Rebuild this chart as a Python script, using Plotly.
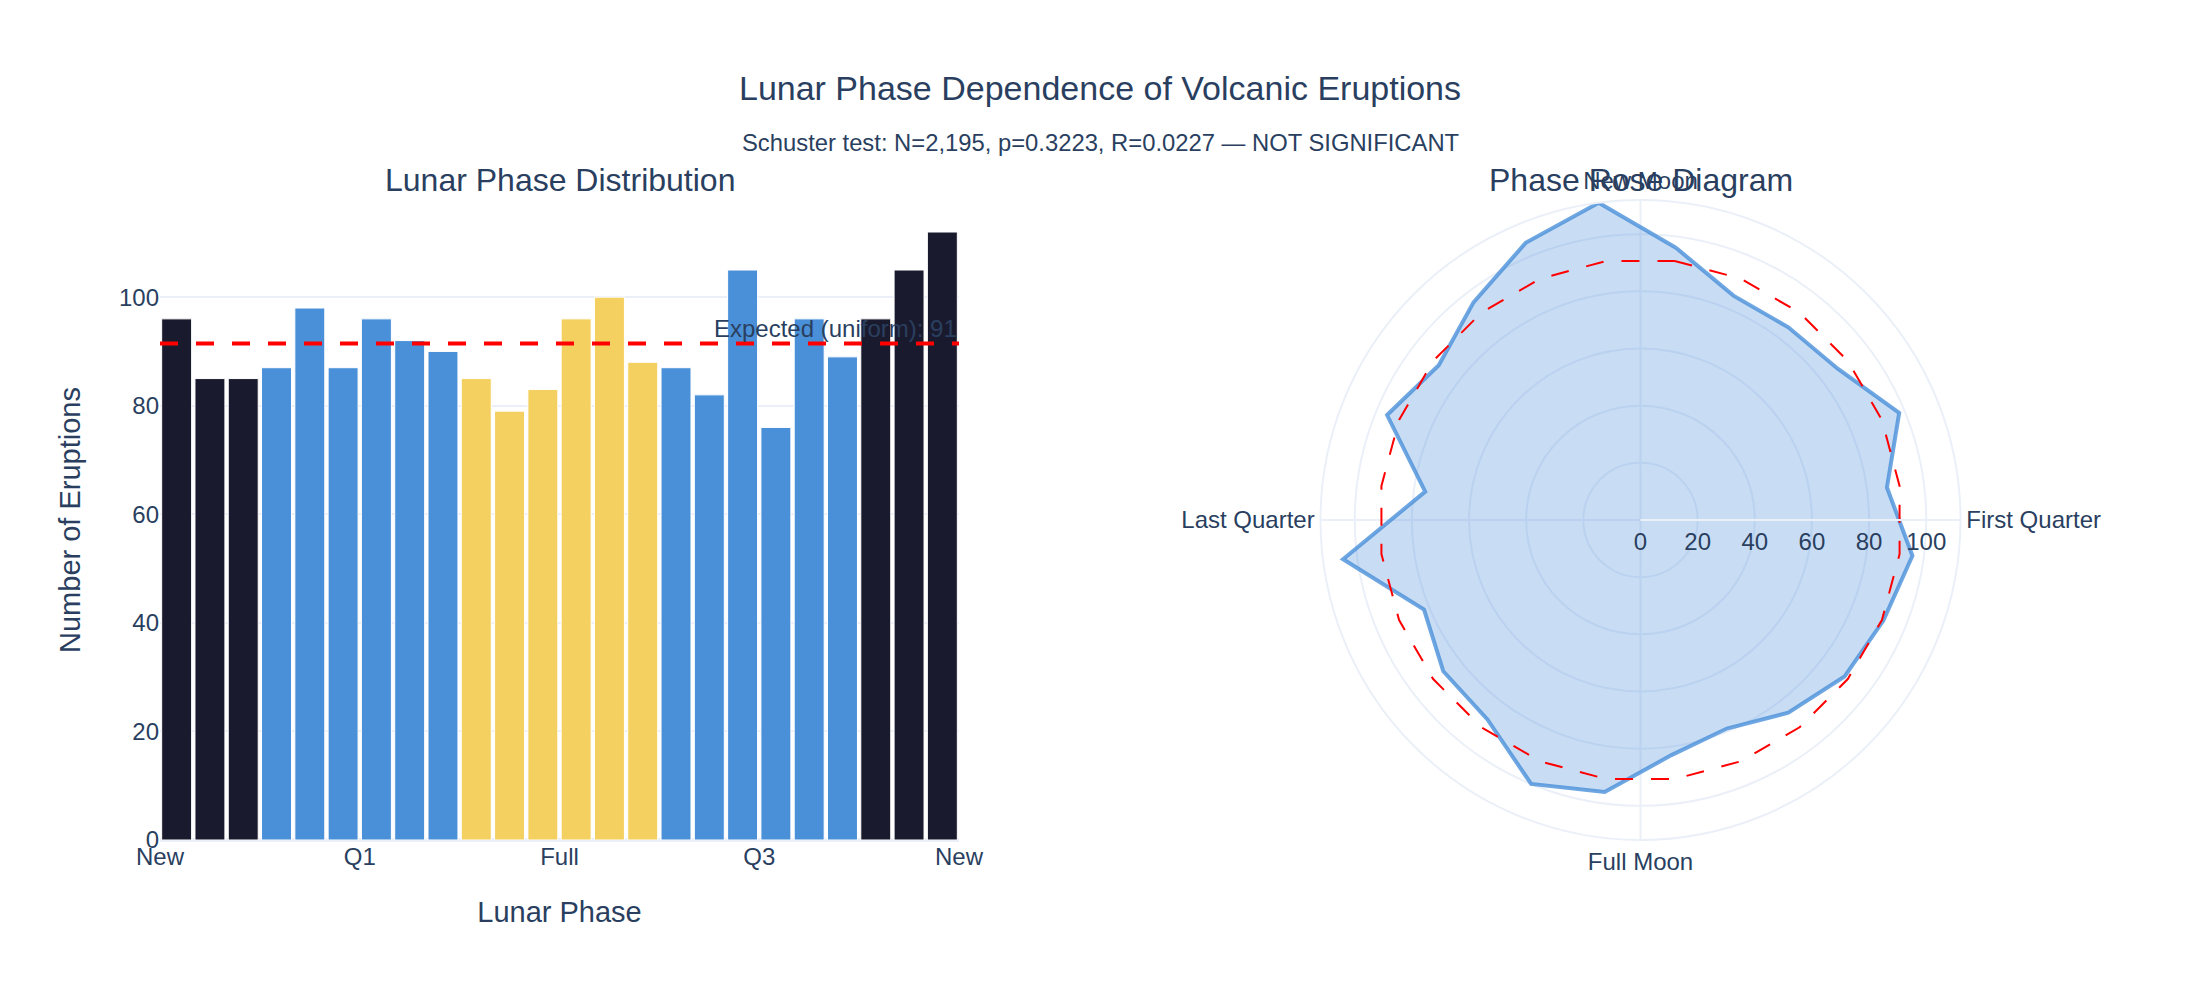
import numpy as np
import plotly.graph_objects as go
from plotly.subplots import make_subplots

# ---- data ----
counts = [96, 85, 85, 87, 98, 87, 96, 92, 90, 85, 79, 83,
          96, 100, 88, 87, 82, 105, 76, 96, 89, 96, 105, 112]
n_bins = len(counts)
bin_edges = np.linspace(0, 1, n_bins + 1)
bin_centers = (bin_edges[:-1] + bin_edges[1:]) / 2
phase_tickvals = [0, 0.25, 0.5, 0.75, 1]
phase_ticktext = ["New", "Q1", "Full", "Q3", "New"]
angle_tickvals = [0, 90, 180, 270]
angle_ticktext = ["New Moon", "First Quarter", "Full Moon", "Last Quarter"]
N = sum(counts)
p_value = 0.3223
R_value = 0.0227
expected = N / n_bins

DARK = "#1a1a2e"
BLUE = "#4a90d9"
YELLOW = "#f4d060"


def phase_color(ph):
    if ph < 0.125 or ph > 0.875:
        return DARK
    if 0.375 <= ph <= 0.625:
        return YELLOW
    return BLUE


bar_colors = [phase_color(p) for p in bin_centers]

fig = make_subplots(rows=1, cols=2, specs=[[{"type": "xy"}, {"type": "polar"}]],
                    subplot_titles=("Lunar Phase Distribution", "Phase Rose Diagram"),
                    horizontal_spacing=0.15)

fig.add_trace(go.Bar(x=bin_centers, y=counts,
                     marker=dict(color=bar_colors, line=dict(color="white", width=1)),
                     showlegend=False), row=1, col=1)

fig.add_hline(y=expected, line=dict(color="red", width=4, dash="18px,18px"),
              annotation_text=f"Expected (uniform): {expected:.0f}",
              annotation_position="top right",
              annotation_font=dict(size=24),
              row=1, col=1)

theta = list(bin_centers * 360)
fig.add_trace(go.Scatterpolar(r=counts + [counts[0]], theta=theta + [theta[0]],
                              mode="lines", fill="toself",
                              fillcolor="rgba(74,144,217,0.3)",
                              line=dict(color="rgba(74,144,217,0.8)", width=4),
                              showlegend=False), row=1, col=2)
fig.add_trace(go.Scatterpolar(r=[expected] * (n_bins + 1), theta=theta + [theta[0]],
                              mode="lines",
                              line=dict(color="red", width=2, dash="18px,18px"),
                              showlegend=False), row=1, col=2)

fig.update_layout(
    template="plotly_white",
    font=dict(family="Arial", size=24),
    title=dict(text="Lunar Phase Dependence of Volcanic Eruptions",
               x=0.5, xanchor="center", y=0.912, yanchor="middle",
               font=dict(size=34)),
    margin=dict(l=160, r=160, t=200, b=160),
    bargap=0.1,
    showlegend=False,
    polar=dict(
        angularaxis=dict(rotation=90, direction="clockwise",
                         tickvals=angle_tickvals, ticktext=angle_ticktext,
                         gridwidth=2, linewidth=2),
        radialaxis=dict(gridwidth=2, linewidth=2),
    ),
)
for ann in fig.layout.annotations:
    if ann.text in ("Lunar Phase Distribution", "Phase Rose Diagram"):
        ann.font.size = 32

fig.add_annotation(
    text=f"Schuster test: N={N:,}, p={p_value:.4f}, R={R_value:.4f} — NOT SIGNIFICANT",
    xref="paper", yref="paper", x=0.5, y=1 + 57 / 640, xanchor="center", yanchor="middle",
    showarrow=False, font=dict(size=23.8))

fig.update_xaxes(range=[0, 1], tickvals=phase_tickvals, ticktext=phase_ticktext,
                 showgrid=False, title_text="Lunar Phase", title_standoff=32, row=1, col=1)
fig.update_yaxes(title_text="Number of Eruptions", title_standoff=29,
                 gridwidth=2, zerolinewidth=4, row=1, col=1)

fig.write_html("out.html")
